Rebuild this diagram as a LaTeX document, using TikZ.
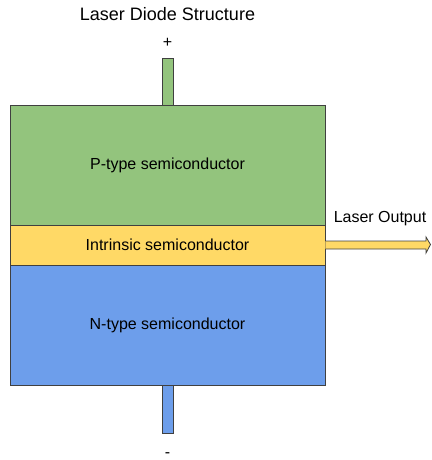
\documentclass[tikz,border=0pt]{standalone}
\usepackage{fontspec}
\setmainfont{Liberation Sans}
\definecolor{pgreen}{HTML}{93C47D}
\definecolor{iyellow}{HTML}{FFD966}
\definecolor{nblue}{HTML}{6D9EEB}
\definecolor{edge}{HTML}{404040}
\begin{document}
\begin{tikzpicture}[x=1pt,y=-1pt,
  layer/.style={draw=edge, line width=0.8pt, minimum width=315pt, inner sep=0pt, font=\fontsize{16}{18}\selectfont},
  lead/.style={draw=edge, line width=0.8pt, minimum width=11pt, inner sep=0pt},
  lbl/.style={font=\fontsize{16}{18}\selectfont, inner sep=0pt}]
\useasboundingbox (0,0) rectangle (431,460);
% semiconductor layers
\node[layer, fill=pgreen, minimum height=120pt] (p) at (167.5,165) {\raisebox{-1.5pt}{P-type semiconductor}};
\node[layer, fill=iyellow, minimum height=40pt] (i) at (167.5,245) {\raisebox{-1.5pt}{Intrinsic semiconductor}};
\node[layer, fill=nblue, minimum height=120pt] (n) at (167.5,325) {\raisebox{-2pt}{N-type semiconductor}};
% electrical leads
\node[lead, fill=pgreen, minimum height=47pt] (lp) at (167.5,81.5) {};
\node[lead, fill=nblue, minimum height=48pt] (ln) at (167.5,409) {};
% labels
\node[font=\fontsize{18}{20}\selectfont, inner sep=0pt] (title) at (167.5,14) {Laser Diode Structure};
\node[lbl] (plus) at (167.5,43) {+};
\node[lbl] (minus) at (167.5,455) {-};
\node[lbl] (out) at (380,219) {Laser Output};
% output beam
\coordinate (tip) at (430.5,244.5);
\draw[edge, line width=0.8pt, fill=iyellow]
  ([yshift=-4pt]i.east) -- ([xshift=-4.5pt,yshift=-4pt]tip |- i.east)
  -- ([xshift=-4.5pt,yshift=-8pt]tip |- i.east) -- (tip)
  -- ([xshift=-4.5pt,yshift=8pt]tip |- i.east) -- ([xshift=-4.5pt,yshift=4pt]tip |- i.east)
  -- ([yshift=4pt]i.east);
\end{tikzpicture}
\end{document}
